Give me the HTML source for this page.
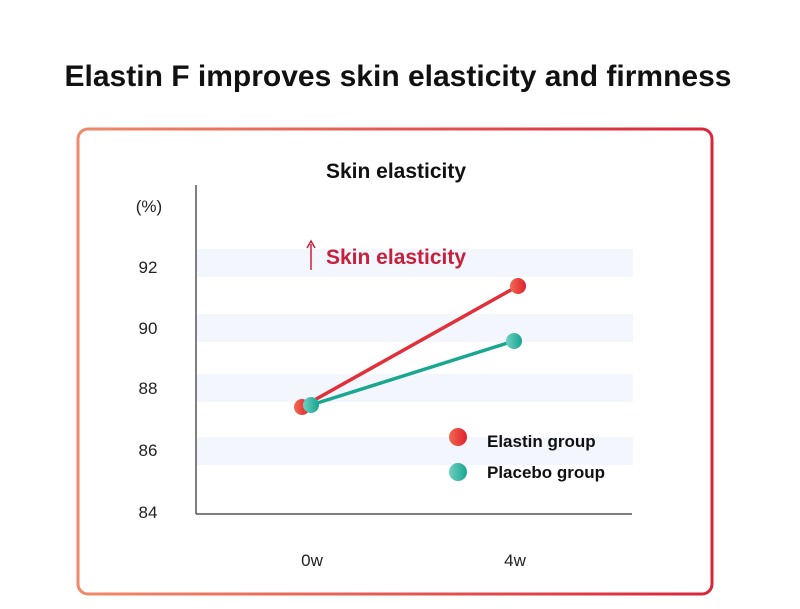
<!DOCTYPE html>
<html><head><style>body{margin:0;background:#fff}svg{display:block}text{font-family:"Liberation Sans",sans-serif}</style></head><body>
<svg width="800" height="609" viewBox="0 0 800 609" xmlns="http://www.w3.org/2000/svg">
<defs>
<linearGradient id="bx" x1="0" x2="1"><stop offset="0" stop-color="#ef8a6a"/><stop offset="1" stop-color="#d9263a"/></linearGradient>
<linearGradient id="rd" x1="0" x2="1"><stop offset="0" stop-color="#f06a50"/><stop offset="1" stop-color="#e02030"/></linearGradient>
<linearGradient id="gr" x1="0" x2="1"><stop offset="0" stop-color="#6fd0c0"/><stop offset="1" stop-color="#17a592"/></linearGradient>
</defs>
<text x="398" y="86" text-anchor="middle" font-size="30" font-weight="bold" fill="#111">Elastin F improves skin elasticity and firmness</text>
<rect x="78" y="129" width="634" height="465" rx="10" fill="none" stroke="url(#bx)" stroke-width="3"/>
<text x="396" y="178" text-anchor="middle" font-size="21" font-weight="bold" fill="#111">Skin elasticity</text>
<g fill="#f3f6fd">
<rect x="197" y="249" width="436" height="28"/><rect x="197" y="314" width="436" height="28"/>
<rect x="197" y="374" width="436" height="28"/><rect x="197" y="437" width="436" height="28"/>
</g>
<line x1="196" y1="185" x2="196" y2="514" stroke="#555" stroke-width="1.5"/>
<line x1="196" y1="514" x2="632" y2="514" stroke="#555" stroke-width="1.5"/>
<g font-size="17" fill="#222" text-anchor="middle">
<text x="149" y="212">(%)</text><text x="148" y="273">92</text><text x="148" y="334">90</text>
<text x="148" y="394">88</text><text x="148" y="456">86</text><text x="148" y="518">84</text>
<text x="312" y="566">0w</text><text x="515" y="566">4w</text></g>
<line x1="311" y1="270" x2="311" y2="244" stroke="#c8203a" stroke-width="1.5"/>
<path d="M307 248 L311 241 L315 248" fill="none" stroke="#c8203a" stroke-width="1.5"/>
<text x="326" y="264" font-size="21" font-weight="bold" fill="#c8203a">Skin elasticity</text>
<line x1="302" y1="407" x2="518" y2="286" stroke="#e0303a" stroke-width="3.5"/>
<line x1="311" y1="405" x2="514" y2="341" stroke="#1aa792" stroke-width="3.5"/>
<circle cx="302" cy="407" r="8" fill="url(#rd)"/>
<circle cx="311" cy="405" r="8" fill="url(#gr)"/>
<circle cx="518" cy="286" r="8" fill="url(#rd)"/>
<circle cx="514" cy="341" r="8" fill="url(#gr)"/>
<circle cx="458" cy="437" r="9" fill="url(#rd)"/>
<circle cx="458" cy="472" r="9" fill="url(#gr)"/>
<text x="487" y="447" font-size="17" font-weight="bold" fill="#111">Elastin group</text>
<text x="487" y="478" font-size="17" font-weight="bold" fill="#111">Placebo group</text>
</svg></body></html>
